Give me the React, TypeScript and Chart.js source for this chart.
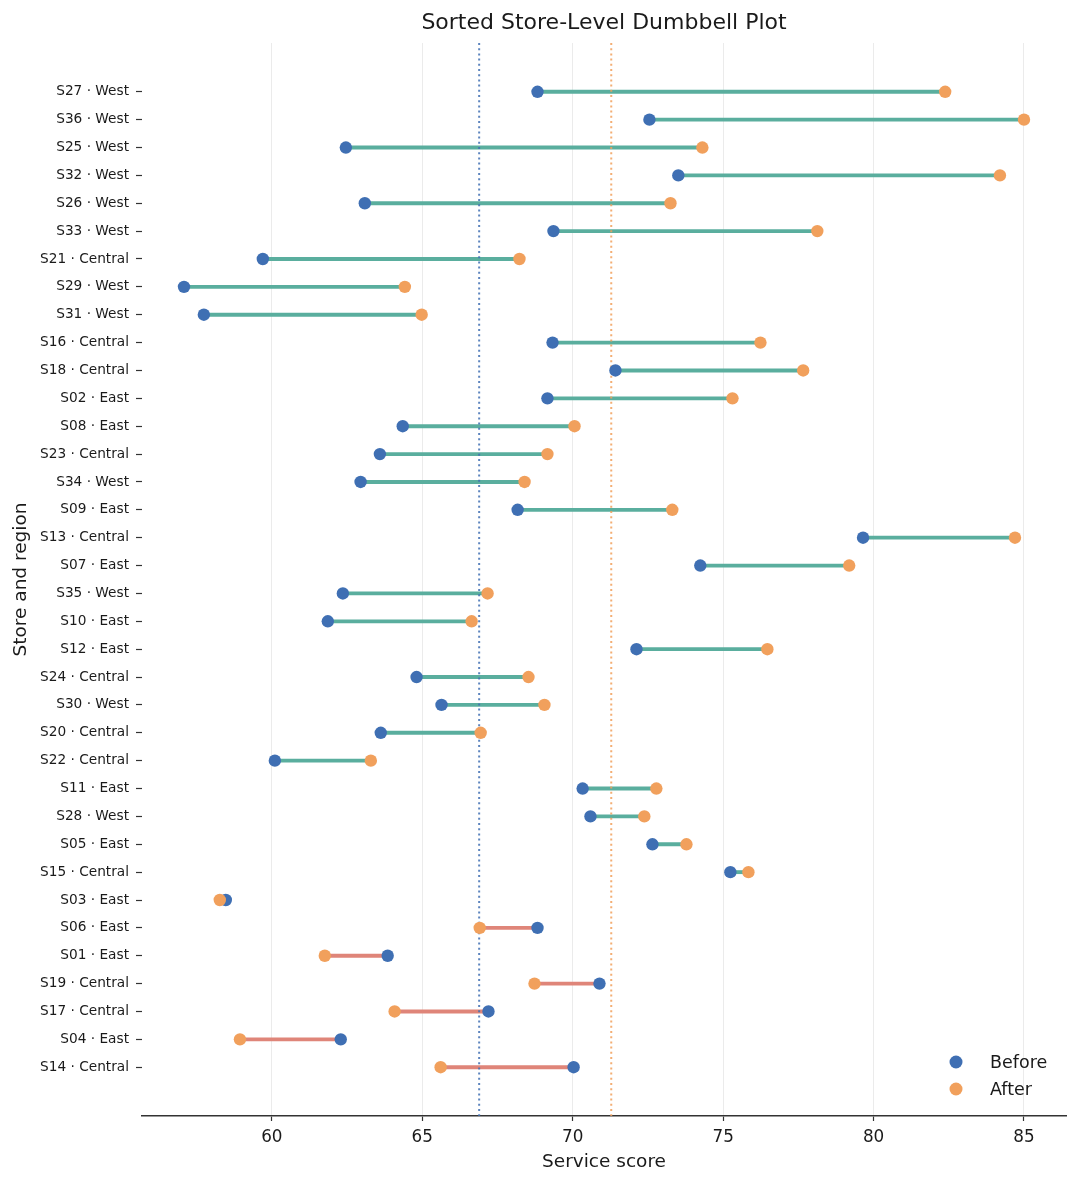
import React, { useEffect, useRef } from "react";
import { Chart, registerables } from "chart.js";

Chart.register(...registerables);

// ---------- data (top to bottom, sorted by change) ----------
const STORES = [
  "S27", "S36", "S25", "S32", "S26", "S33", "S21", "S29", "S31", "S16",
  "S18", "S02", "S08", "S23", "S34", "S09", "S13", "S07", "S35", "S10",
  "S12", "S24", "S30", "S20", "S22", "S11", "S28", "S05", "S15", "S03",
  "S06", "S01", "S19", "S17", "S04", "S14",
];
const REGIONS = [
  "West", "West", "West", "West", "West", "West", "Central", "West", "West", "Central",
  "Central", "East", "East", "Central", "West", "East", "Central", "East", "West", "East",
  "East", "Central", "West", "Central", "Central", "East", "West", "East", "Central", "East",
  "East", "East", "Central", "Central", "East", "Central",
];
const BEFORE = [
  68.83, 72.55, 62.46, 73.51, 63.09, 69.36, 59.70, 57.08, 57.74, 69.33,
  71.42, 69.16, 64.35, 63.59, 62.95, 68.17, 79.65, 74.24, 62.36, 61.86,
  72.12, 64.81, 65.64, 63.62, 60.10, 70.33, 70.59, 72.65, 75.24, 58.47,
  68.83, 63.85, 70.89, 67.20, 62.29, 70.03,
];
const AFTER = [
  82.38, 85.00, 74.31, 84.20, 73.25, 78.13, 68.23, 64.42, 64.98, 76.24,
  77.66, 75.31, 70.06, 69.16, 68.40, 73.31, 84.70, 79.19, 67.17, 66.64,
  76.47, 68.53, 69.06, 66.94, 63.29, 72.78, 72.38, 73.78, 75.84, 58.27,
  66.91, 61.76, 68.73, 64.08, 58.94, 65.61,
];
const X_TICKS = [60, 65, 70, 75, 80, 85];
const SERIES_NAMES = ["Before", "After"];

const TITLE = "Sorted Store-Level Dumbbell Plot";
const X_TITLE = "Service score";
const Y_TITLE = "Store and region";

// ---------- style ----------
const FONT = "'DejaVu Sans', 'Liberation Sans', sans-serif";
const BLUE = "#3f6fb3";
const ORANGE = "#f1a05c";
const GREEN = "#5aae9e";
const RED = "#df8579";
const BLUE_DOT = "rgba(63,111,179,0.85)";
const ORANGE_DOT = "rgba(241,160,92,0.85)";
const TEXT = "#1a1a1a";

const mean = (a: number[]) => a.reduce((s, v) => s + v, 0) / a.length;

export default function App() {
  const ref = useRef<HTMLCanvasElement | null>(null);

  useEffect(() => {
    if (!ref.current) return;
    const labels = STORES.map((s, i) => `${s} · ${REGIONS[i]}`);
    const n = labels.length;
    const all = [...BEFORE, ...AFTER];
    const lo = Math.min(...all);
    const hi = Math.max(...all);
    const xPad = (hi - lo) * 0.05;
    const yPad = (n - 1) * 0.05;
    const meanBefore = mean(BEFORE);
    const meanAfter = mean(AFTER);

    const legendPlugin = {
      id: "cornerLegend",
      afterDraw(chart: any) {
        const { ctx, chartArea } = chart;
        const items = [
          { label: SERIES_NAMES[0], color: BLUE },
          { label: SERIES_NAMES[1], color: ORANGE },
        ];
        ctx.save();
        ctx.font = `17.5px ${FONT}`;
        ctx.textBaseline = "middle";
        ctx.textAlign = "left";
        items.forEach((it, k) => {
          const y = chartArea.bottom - 54 + k * 27;
          const cx = chartArea.right - 110;
          ctx.beginPath();
          ctx.fillStyle = it.color;
          ctx.arc(cx, y, 6.5, 0, Math.PI * 2);
          ctx.fill();
          ctx.fillStyle = TEXT;
          ctx.fillText(it.label, chartArea.right - 76, y + 1);
        });
        ctx.restore();
      },
    };

    const chart = new Chart(ref.current, {
      type: "scatter",
      data: {
        datasets: [
          {
            type: "bar",
            label: "change",
            indexAxis: "y",
            data: BEFORE.map((b, i) => ({ x: [b, AFTER[i]], y: i })),
            backgroundColor: BEFORE.map((b, i) => (AFTER[i] >= b ? GREEN : RED)),
            borderWidth: 0,
            barThickness: 3.2,
            order: 3,
          } as any,
          {
            type: "line",
            label: "mean before",
            data: [
              { x: meanBefore, y: -yPad },
              { x: meanBefore, y: n - 1 + yPad },
            ],
            borderColor: BLUE_DOT,
            borderWidth: 2,
            borderDash: [2, 3.2],
            pointRadius: 0,
            order: 2,
          },
          {
            type: "line",
            label: "mean after",
            data: [
              { x: meanAfter, y: -yPad },
              { x: meanAfter, y: n - 1 + yPad },
            ],
            borderColor: ORANGE_DOT,
            borderWidth: 2,
            borderDash: [2, 3.2],
            pointRadius: 0,
            order: 2,
          },
          {
            type: "scatter",
            label: SERIES_NAMES[0],
            data: BEFORE.map((v, i) => ({ x: v, y: i })),
            backgroundColor: BLUE,
            borderWidth: 0,
            pointRadius: 6.2,
            order: 1,
          },
          {
            type: "scatter",
            label: SERIES_NAMES[1],
            data: AFTER.map((v, i) => ({ x: v, y: i })),
            backgroundColor: ORANGE,
            borderWidth: 0,
            pointRadius: 6.2,
            order: 0,
          },
        ],
      },
      options: {
        animation: false,
        responsive: false,
        devicePixelRatio: 1,
        layout: { padding: { left: 0, right: 14, top: 0, bottom: 0 } },
        plugins: {
          legend: { display: false },
          tooltip: { enabled: false },
          title: {
            display: true,
            text: TITLE,
            fullSize: false,
            color: TEXT,
            font: { family: FONT, size: 22, weight: "normal" },
            padding: { top: 10, bottom: 6.6 },
          },
        },
        scales: {
          x: {
            type: "linear",
            position: "bottom",
            min: lo - xPad,
            max: hi + xPad,
            beginAtZero: false,
            offset: false,
            afterBuildTicks: (scale: any) => {
              scale.ticks = X_TICKS.map((v) => ({ value: v }));
            },
            afterFit: (scale: any) => {
              scale.height = 69;
            },
            ticks: {
              color: TEXT,
              font: { family: FONT, size: 16.8 },
              padding: 6.2,
              maxRotation: 0,
              autoSkip: false,
            },
            grid: {
              color: "#ebebeb",
              lineWidth: 1,
              drawTicks: true,
              tickLength: 5,
              tickColor: "#333333",
              tickWidth: 1.2,
            },
            border: { display: true, color: "#333333", width: 1.6 },
            title: {
              display: true,
              text: X_TITLE,
              color: TEXT,
              font: { family: FONT, size: 18.5 },
              padding: { top: 5, bottom: 11.4 },
            },
          },
          y: {
            type: "linear",
            position: "left",
            reverse: true,
            min: -yPad,
            max: n - 1 + yPad,
            offset: false,
            afterBuildTicks: (scale: any) => {
              scale.ticks = labels.map((_, i) => ({ value: i }));
            },
            afterFit: (scale: any) => {
              scale.width = 142;
            },
            ticks: {
              color: TEXT,
              font: { family: FONT, size: 13.7 },
              padding: 7,
              autoSkip: false,
              callback: (v: any) => labels[Math.round(Number(v))] ?? "",
            },
            grid: {
              offset: false,
              drawOnChartArea: false,
              drawTicks: true,
              tickLength: 6,
              tickColor: "#333333",
              tickWidth: 1.2,
            },
            border: { display: false },
            title: {
              display: true,
              text: Y_TITLE,
              color: TEXT,
              font: { family: FONT, size: 18.5 },
              padding: { top: 10, bottom: 0 },
            },
          },
        },
      } as any,
      plugins: [legendPlugin],
    });

    return () => chart.destroy();
  }, []);

  return (
    <div style={{ position: "absolute", left: 0, top: 0, width: 1080, height: 1185, background: "#ffffff" }}>
      <canvas ref={ref} width={1080} height={1185} style={{ display: "block" }} />
    </div>
  );
}
